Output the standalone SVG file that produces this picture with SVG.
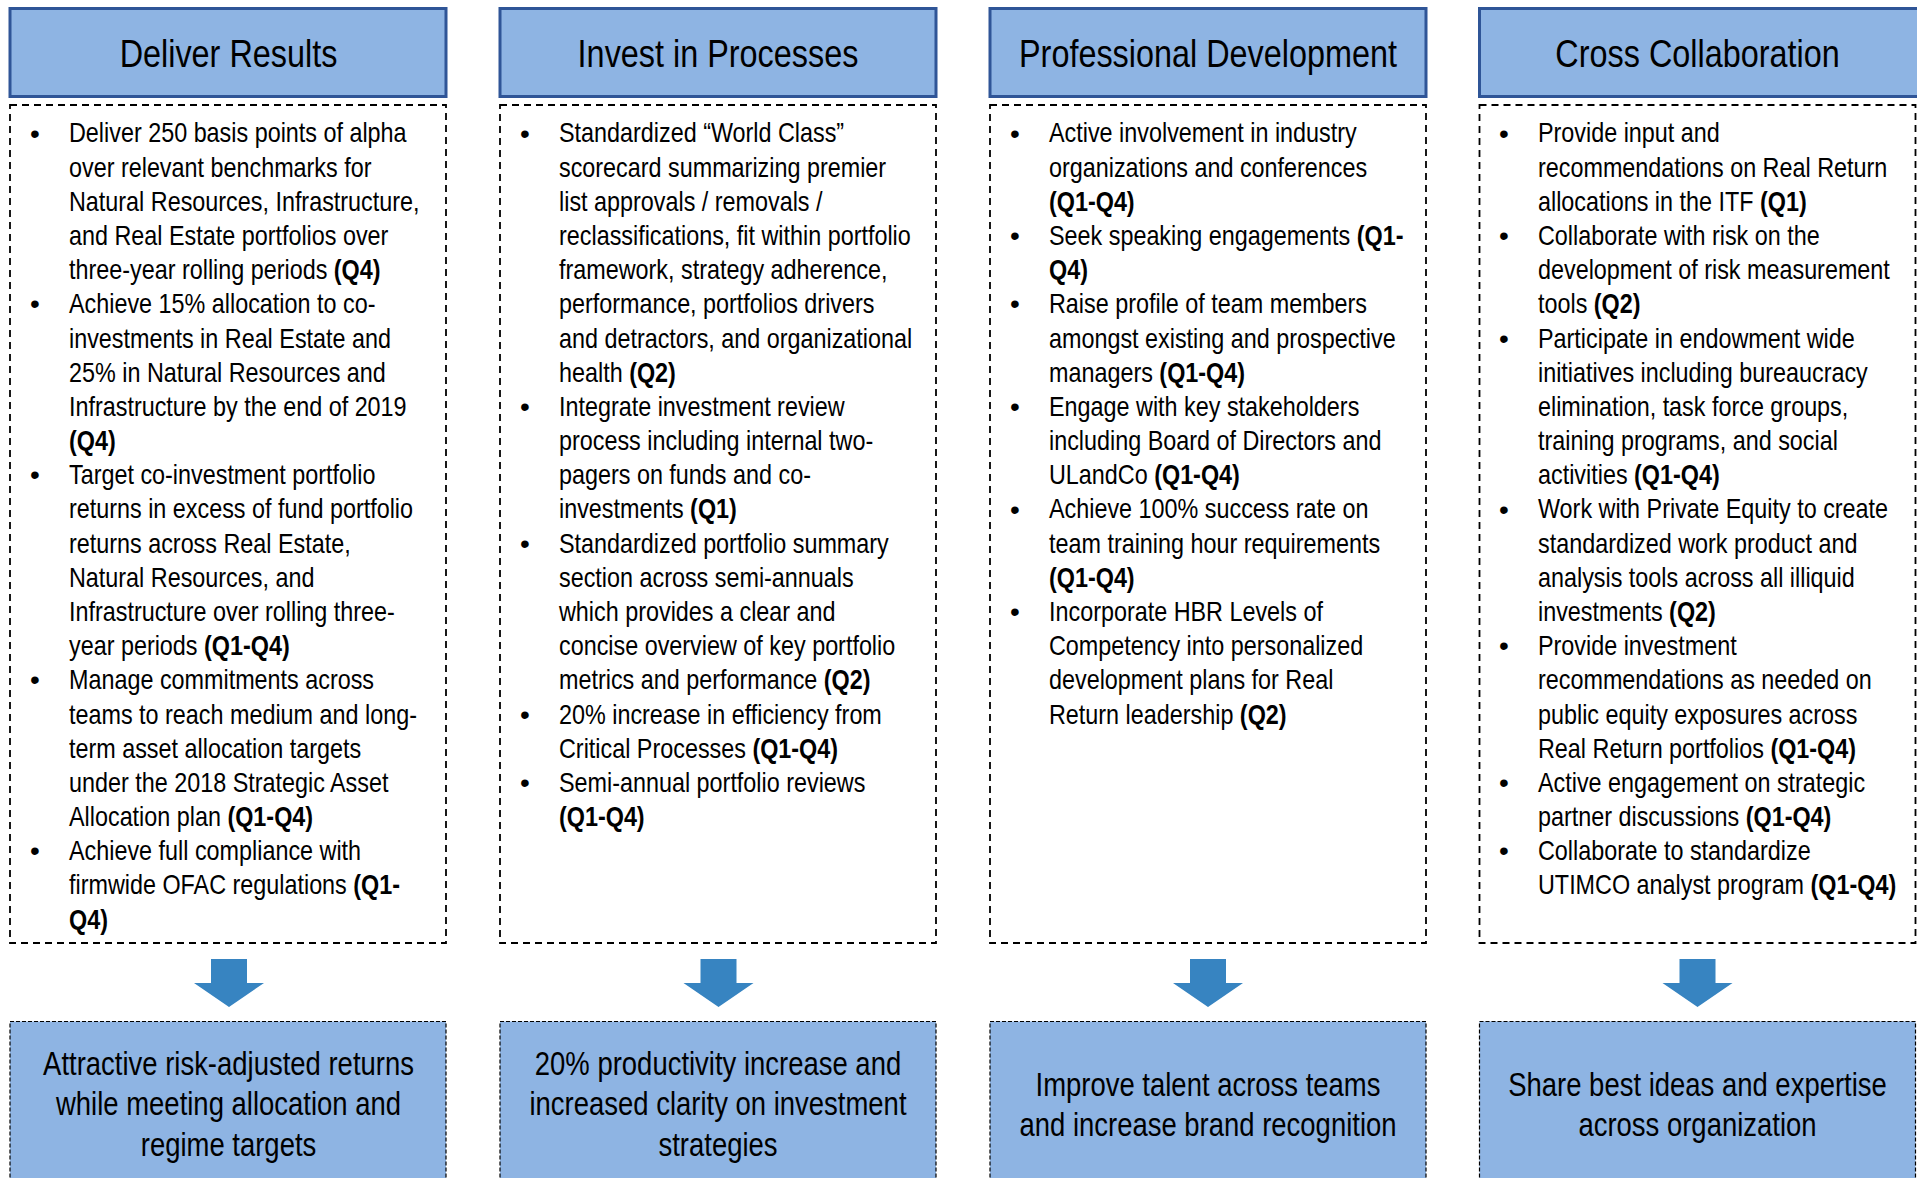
<svg xmlns="http://www.w3.org/2000/svg" width="1917" height="1178" viewBox="0 0 1917 1178">
<style>
text{font-family:"Liberation Sans",Arial,sans-serif;fill:#000}
.hbox{fill:#8EB4E3;stroke:#2F5597;stroke-width:3}
.body{fill:#fff;stroke:#000;stroke-width:1.8;stroke-dasharray:7 5}
.obox{fill:#8EB4E3;stroke:#000;stroke-width:1.2;stroke-dasharray:4 2}
.arrow{fill:#3784C1}
.ht{font-size:39.5px;text-anchor:middle}
.bt{font-size:28.5px}
.bul{font-size:28px;text-anchor:middle}
.ot{font-size:33.5px;text-anchor:middle}
.b{font-weight:bold}
</style>
<rect width="1917" height="1178" fill="#fff"/>

<g id="col1">
<rect class="hbox" x="10" y="8.5" width="436" height="88"/>
<g transform="translate(228.5 0) scale(0.82 1)"><text class="ht" x="0" y="67">Deliver Results</text></g>
<rect class="body" x="10" y="105" width="436" height="838"/>
<text class="bul" x="35" y="142.5">•</text><text class="bul" x="35" y="313.4">•</text><text class="bul" x="35" y="484.3">•</text><text class="bul" x="35" y="689.4">•</text><text class="bul" x="35" y="860.3">•</text>
<g transform="translate(69 0.5) scale(0.82 1)">
<text class="bt" x="0" y="142">Deliver 250 basis points of alpha</text>
<text class="bt" x="0" y="176.2">over relevant benchmarks for</text>
<text class="bt" x="0" y="210.4">Natural Resources, Infrastructure,</text>
<text class="bt" x="0" y="244.5">and Real Estate portfolios over</text>
<text class="bt" x="0" y="278.7">three-year rolling periods <tspan class="b">(Q4)</tspan></text>
<text class="bt" x="0" y="312.9">Achieve 15% allocation to co-</text>
<text class="bt" x="0" y="347.1">investments in Real Estate and</text>
<text class="bt" x="0" y="381.3">25% in Natural Resources and</text>
<text class="bt" x="0" y="415.4">Infrastructure by the end of 2019</text>
<text class="bt" x="0" y="449.6"><tspan class="b">(Q4)</tspan></text>
<text class="bt" x="0" y="483.8">Target co-investment portfolio</text>
<text class="bt" x="0" y="518">returns in excess of fund portfolio</text>
<text class="bt" x="0" y="552.2">returns across Real Estate,</text>
<text class="bt" x="0" y="586.3">Natural Resources, and</text>
<text class="bt" x="0" y="620.5">Infrastructure over rolling three-</text>
<text class="bt" x="0" y="654.7">year periods <tspan class="b">(Q1-Q4)</tspan></text>
<text class="bt" x="0" y="688.9">Manage commitments across</text>
<text class="bt" x="0" y="723.1">teams to reach medium and long-</text>
<text class="bt" x="0" y="757.2">term asset allocation targets</text>
<text class="bt" x="0" y="791.4">under the 2018 Strategic Asset</text>
<text class="bt" x="0" y="825.6">Allocation plan <tspan class="b">(Q1-Q4)</tspan></text>
<text class="bt" x="0" y="859.8">Achieve full compliance with</text>
<text class="bt" x="0" y="894">firmwide OFAC regulations <tspan class="b">(Q1-</tspan></text>
<text class="bt" x="0" y="928.1"><tspan class="b">Q4)</tspan></text>
</g>
</g>

<g id="col2">
<rect class="hbox" x="500" y="8.5" width="436" height="88"/>
<g transform="translate(718 0) scale(0.82 1)"><text class="ht" x="0" y="67">Invest in Processes</text></g>
<rect class="body" x="500" y="105" width="436" height="838"/>
<text class="bul" x="525" y="142.5">•</text><text class="bul" x="525" y="415.9">•</text><text class="bul" x="525" y="552.7">•</text><text class="bul" x="525" y="723.6">•</text><text class="bul" x="525" y="791.9">•</text>
<g transform="translate(559 0.5) scale(0.82 1)">
<text class="bt" x="0" y="142">Standardized “World Class”</text>
<text class="bt" x="0" y="176.2">scorecard summarizing premier</text>
<text class="bt" x="0" y="210.4">list approvals / removals /</text>
<text class="bt" x="0" y="244.5">reclassifications, fit within portfolio</text>
<text class="bt" x="0" y="278.7">framework, strategy adherence,</text>
<text class="bt" x="0" y="312.9">performance, portfolios drivers</text>
<text class="bt" x="0" y="347.1">and detractors, and organizational</text>
<text class="bt" x="0" y="381.3">health <tspan class="b">(Q2)</tspan></text>
<text class="bt" x="0" y="415.4">Integrate investment review</text>
<text class="bt" x="0" y="449.6">process including internal two-</text>
<text class="bt" x="0" y="483.8">pagers on funds and co-</text>
<text class="bt" x="0" y="518">investments <tspan class="b">(Q1)</tspan></text>
<text class="bt" x="0" y="552.2">Standardized portfolio summary</text>
<text class="bt" x="0" y="586.3">section across semi-annuals</text>
<text class="bt" x="0" y="620.5">which provides a clear and</text>
<text class="bt" x="0" y="654.7">concise overview of key portfolio</text>
<text class="bt" x="0" y="688.9">metrics and performance <tspan class="b">(Q2)</tspan></text>
<text class="bt" x="0" y="723.1">20% increase in efficiency from</text>
<text class="bt" x="0" y="757.2">Critical Processes <tspan class="b">(Q1-Q4)</tspan></text>
<text class="bt" x="0" y="791.4">Semi-annual portfolio reviews</text>
<text class="bt" x="0" y="825.6"><tspan class="b">(Q1-Q4)</tspan></text>
</g>
</g>

<g id="col3">
<rect class="hbox" x="990" y="8.5" width="436" height="88"/>
<g transform="translate(1208 0) scale(0.82 1)"><text class="ht" x="0" y="67">Professional Development</text></g>
<rect class="body" x="990" y="105" width="436" height="838"/>
<text class="bul" x="1015" y="142.5">•</text><text class="bul" x="1015" y="245">•</text><text class="bul" x="1015" y="313.4">•</text><text class="bul" x="1015" y="415.9">•</text><text class="bul" x="1015" y="518.5">•</text><text class="bul" x="1015" y="621">•</text>
<g transform="translate(1049 0.5) scale(0.82 1)">
<text class="bt" x="0" y="142">Active involvement in industry</text>
<text class="bt" x="0" y="176.2">organizations and conferences</text>
<text class="bt" x="0" y="210.4"><tspan class="b">(Q1-Q4)</tspan></text>
<text class="bt" x="0" y="244.5">Seek speaking engagements <tspan class="b">(Q1-</tspan></text>
<text class="bt" x="0" y="278.7"><tspan class="b">Q4)</tspan></text>
<text class="bt" x="0" y="312.9">Raise profile of team members</text>
<text class="bt" x="0" y="347.1">amongst existing and prospective</text>
<text class="bt" x="0" y="381.3">managers <tspan class="b">(Q1-Q4)</tspan></text>
<text class="bt" x="0" y="415.4">Engage with key stakeholders</text>
<text class="bt" x="0" y="449.6">including Board of Directors and</text>
<text class="bt" x="0" y="483.8">ULandCo <tspan class="b">(Q1-Q4)</tspan></text>
<text class="bt" x="0" y="518">Achieve 100% success rate on</text>
<text class="bt" x="0" y="552.2">team training hour requirements</text>
<text class="bt" x="0" y="586.3"><tspan class="b">(Q1-Q4)</tspan></text>
<text class="bt" x="0" y="620.5">Incorporate HBR Levels of</text>
<text class="bt" x="0" y="654.7">Competency into personalized</text>
<text class="bt" x="0" y="688.9">development plans for Real</text>
<text class="bt" x="0" y="723.1">Return leadership <tspan class="b">(Q2)</tspan></text>
</g>
</g>

<g id="col4">
<rect class="hbox" x="1479.5" y="8.5" width="440" height="88"/>
<g transform="translate(1697.5 0) scale(0.82 1)"><text class="ht" x="0" y="67">Cross Collaboration</text></g>
<rect class="body" x="1479.5" y="105" width="436" height="838"/>
<text class="bul" x="1504" y="142.5">•</text><text class="bul" x="1504" y="245">•</text><text class="bul" x="1504" y="347.6">•</text><text class="bul" x="1504" y="518.5">•</text><text class="bul" x="1504" y="655.2">•</text><text class="bul" x="1504" y="791.9">•</text><text class="bul" x="1504" y="860.3">•</text>
<g transform="translate(1538 0.5) scale(0.82 1)">
<text class="bt" x="0" y="142">Provide input and</text>
<text class="bt" x="0" y="176.2">recommendations on Real Return</text>
<text class="bt" x="0" y="210.4">allocations in the ITF <tspan class="b">(Q1)</tspan></text>
<text class="bt" x="0" y="244.5">Collaborate with risk on the</text>
<text class="bt" x="0" y="278.7">development of risk measurement</text>
<text class="bt" x="0" y="312.9">tools <tspan class="b">(Q2)</tspan></text>
<text class="bt" x="0" y="347.1">Participate in endowment wide</text>
<text class="bt" x="0" y="381.3">initiatives including bureaucracy</text>
<text class="bt" x="0" y="415.4">elimination, task force groups,</text>
<text class="bt" x="0" y="449.6">training programs, and social</text>
<text class="bt" x="0" y="483.8">activities <tspan class="b">(Q1-Q4)</tspan></text>
<text class="bt" x="0" y="518">Work with Private Equity to create</text>
<text class="bt" x="0" y="552.2">standardized work product and</text>
<text class="bt" x="0" y="586.3">analysis tools across all illiquid</text>
<text class="bt" x="0" y="620.5">investments <tspan class="b">(Q2)</tspan></text>
<text class="bt" x="0" y="654.7">Provide investment</text>
<text class="bt" x="0" y="688.9">recommendations as needed on</text>
<text class="bt" x="0" y="723.1">public equity exposures across</text>
<text class="bt" x="0" y="757.2">Real Return portfolios <tspan class="b">(Q1-Q4)</tspan></text>
<text class="bt" x="0" y="791.4">Active engagement on strategic</text>
<text class="bt" x="0" y="825.6">partner discussions <tspan class="b">(Q1-Q4)</tspan></text>
<text class="bt" x="0" y="859.8">Collaborate to standardize</text>
<text class="bt" x="0" y="894">UTIMCO analyst program <tspan class="b">(Q1-Q4)</tspan></text>
</g>
</g>

<g id="out1">
<rect class="obox" x="10" y="1021.5" width="436" height="200"/>
<g transform="translate(228.5 0) scale(0.82 1)">
<text class="ot" x="0" y="1075">Attractive risk-adjusted returns</text>
<text class="ot" x="0" y="1115.5">while meeting allocation and</text>
<text class="ot" x="0" y="1156">regime targets</text>
</g>
</g>
<g id="out2">
<rect class="obox" x="500" y="1021.5" width="436" height="200"/>
<g transform="translate(718 0) scale(0.82 1)">
<text class="ot" x="0" y="1075">20% productivity increase and</text>
<text class="ot" x="0" y="1115.5">increased clarity on investment</text>
<text class="ot" x="0" y="1156">strategies</text>
</g>
</g>
<g id="out3">
<rect class="obox" x="990" y="1021.5" width="436" height="200"/>
<g transform="translate(1208 0) scale(0.82 1)">
<text class="ot" x="0" y="1096">Improve talent across teams</text>
<text class="ot" x="0" y="1136">and increase brand recognition</text>
</g>
</g>
<g id="out4">
<rect class="obox" x="1479.5" y="1021.5" width="436" height="200"/>
<g transform="translate(1697.5 0) scale(0.82 1)">
<text class="ot" x="0" y="1096">Share best ideas and expertise</text>
<text class="ot" x="0" y="1136">across organization</text>
</g>
</g>

<g id="connectors">
<polygon class="arrow" points="211,959 247,959 247,983 264,983 229,1007 194,983 211,983"/>
<polygon class="arrow" points="700.5,959 736.5,959 736.5,983 753.5,983 718.5,1007 683.5,983 700.5,983"/>
<polygon class="arrow" points="1190,959 1226,959 1226,983 1243,983 1208,1007 1173,983 1190,983"/>
<polygon class="arrow" points="1679.5,959 1715.5,959 1715.5,983 1732.5,983 1697.5,1007 1662.5,983 1679.5,983"/>
</g>
</svg>
